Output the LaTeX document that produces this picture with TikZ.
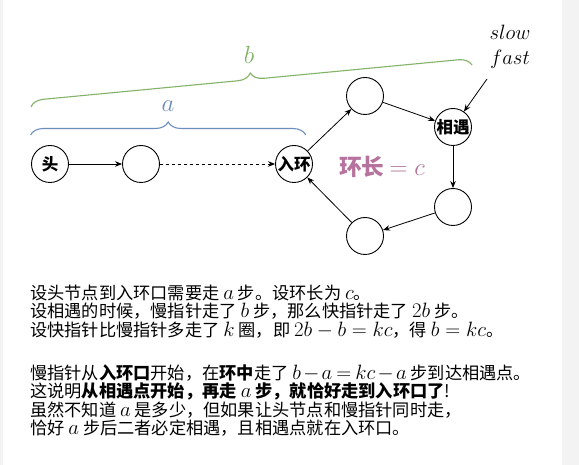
\documentclass[tikz,border=0pt]{standalone}
\usepackage{fontspec}
\setmainfont{Noto Sans CJK SC}[Scale=0.84]
\usetikzlibrary{arrows.meta,decorations.pathreplacing}

\definecolor{braceblue}{HTML}{6C8EBF}
\definecolor{bracegreen}{HTML}{82B366}
\definecolor{ringpink}{HTML}{B5739D}
\definecolor{edgegray}{HTML}{F3F3F3}

\begin{document}
\begin{tikzpicture}[
    x=1pt, y=1pt,
    listnode/.style={
        circle,
        draw,
        line width=0.9pt,
        minimum size=37pt,
        inner sep=0pt,
        font=\fontsize{19.6}{19.6}\selectfont\bfseries
    },
    link/.style={
        line width=0.8pt,
        -{Stealth[length=7pt,width=5.5pt]}
    },
    curly/.style={
        decorate,
        line width=1.1pt,
        decoration={brace, amplitude=13pt}
    },
    textline/.style={
        anchor=base west,
        inner sep=0pt,
        font=\fontsize{20.5}{18.5}\selectfont
    }
]

\useasboundingbox (0,0) rectangle (579,-465);
\fill[edgegray] (0,0) rectangle (579,-465);
\fill[white] (3,0) rectangle (562,-465);

% the list and the ring
\node[listnode] (head)  at (50,-164)  {头};
\node[listnode] (second) at (141,-164) {};
\node[listnode] (entry) at (294,-164) {入环};
\node[listnode] (top)   at (365,-96)  {};
\node[listnode] (meet)  at (453,-127) {相遇};
\node[listnode] (right) at (453,-207) {};
\node[listnode] (bottom) at (365,-236) {};

\draw[link] (head) -- (second);
\draw[link, dash pattern=on 3pt off 3pt] (second) -- (entry);
\draw[link] (entry) -- (top);
\draw[link] (top) -- (meet);
\draw[link] (meet) -- (right);
\draw[link] (right) -- (bottom);
\draw[link] (bottom) -- (entry);

\node[font=\fontsize{27}{27}\selectfont\bfseries, text=ringpink] (ringlen)
    at (382,-167) {环长 $=c$};

% pointers
\node[align=center, font=\fontsize{21}{25}\selectfont] (pointers)
    at (510,-47) {$slow$\\$fast$};
\coordinate (ptr) at (487,-79);
\draw[link] (ptr) -- (meet);

% braces
\draw[curly, braceblue] (30.6,-135) -- (305.8,-135);
\node[text=braceblue, font=\fontsize{28}{28}\selectfont] (alabel)
    at (168,-106) {$a$};

\draw[curly, bracegreen] (31,-107) -- (472,-65);
\node[text=bracegreen, font=\fontsize{28}{28}\selectfont] (blabel)
    at (249,-55) {$b$};

% explanation
\node[textline] (l1) at (30,-299.5) {设头节点到入环口需要走 $a$ 步。设环长为 $c$。};
\node[textline] (l2) at (30,-318)   {设相遇的时候，慢指针走了 $b$ 步，那么快指针走了 $2b$ 步。};
\node[textline] (l3) at (30,-336.5) {设快指针比慢指针多走了 $k$ 圈，即 $2b-b=kc$，得 $b=kc$。};

\node[textline] (l4) at (30,-379.5) {慢指针从\textbf{入环口}开始，在\textbf{环中}走了 {\medmuskip=2mu \thickmuskip=3.5mu $b-a=kc-a$} 步到达相遇点。};
\node[textline] (l5) at (30,-398)   {这说明\textbf{从相遇点开始，再走 $a$ 步，就恰好走到入环口了}!};
\node[textline] (l6) at (30,-416.5) {虽然不知道 $a$ 是多少，但如果让头节点和慢指针同时走，};
\node[textline] (l7) at (30,-435)   {恰好 $a$ 步后二者必定相遇，且相遇点就在入环口。};

\end{tikzpicture}
\end{document}
